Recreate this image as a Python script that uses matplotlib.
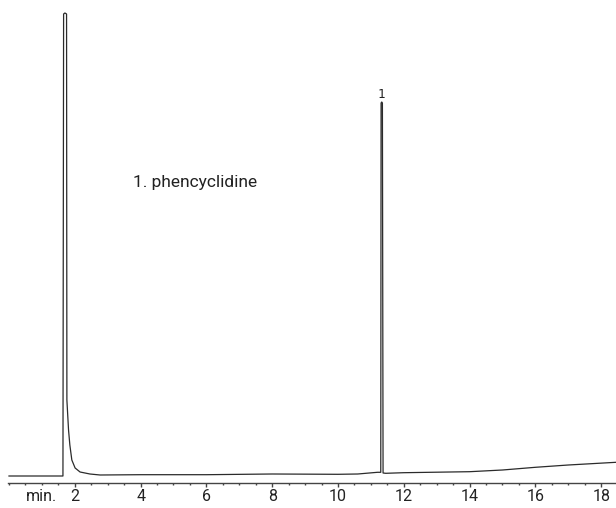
import matplotlib
matplotlib.use("Agg")
import matplotlib.pyplot as plt
from matplotlib.ticker import MultipleLocator

# Chromatogram trace (time in min, signal in arbitrary units)
time_min = [0.00, 1.64, 1.66, 1.70, 1.75, 1.76, 1.81, 1.85, 1.91, 2.01, 2.16, 2.46, 2.77,
            4.00, 6.00, 8.00, 10.00, 10.60, 11.20, 11.30, 11.31, 11.33, 11.35, 11.37,
            11.45, 12.00, 13.00, 14.00, 15.00, 16.00, 17.00, 18.45]
signal = [7.0, 7.0, 469.0, 470.0, 469.0, 83.0, 53.0, 38.0, 23.0, 15.0, 11.0, 9.0, 8.0,
          8.3, 8.3, 9.0, 8.7, 9.0, 10.7, 10.7, 380.0, 381.0, 380.0, 10.0,
          9.7, 10.3, 10.8, 11.3, 13.0, 15.7, 18.0, 20.7]

peak_times = [11.33]
peak_heights = [380.0]
peak_labels = ["1"]
compound_text = "1. phencyclidine"

major_ticks = [2, 4, 6, 8, 10, 12, 14, 16, 18]

plt.rcParams["font.family"] = ["Roboto", "DejaVu Sans"]

fig = plt.figure(figsize=(6.16, 5.08), dpi=100)
ax = fig.add_axes([8 / 616, 25 / 508, 608 / 616, 483 / 508])

ax.plot(time_min, signal, color="#2b2b2b", linewidth=0.9)

for t, h, lab in zip(peak_times, peak_heights, peak_labels):
    ax.text(t, h + 2, lab, ha="center", va="bottom", fontsize=9,
            family="DejaVu Sans Mono", color="#222222")

ax.text(3.77, 300, compound_text, ha="left", va="center", fontsize=12.5, color="#222222")

ax.set_xlim(-0.03, 18.45)
ax.set_ylim(0, 483)

for side in ["left", "right", "top"]:
    ax.spines[side].set_visible(False)
ax.spines["bottom"].set_color("#444444")
ax.spines["bottom"].set_linewidth(1.0)

ax.set_yticks([])
ax.set_xticks(major_ticks)
ax.set_xticklabels([str(v) for v in major_ticks])
ax.xaxis.set_minor_locator(MultipleLocator(0.5))
ax.tick_params(axis="x", which="major", length=3, width=1, color="#444444",
               labelsize=11.5, pad=1.5, labelcolor="#222222")
ax.tick_params(axis="x", which="minor", length=1.5, width=1, color="#444444")

# "min." sits on the same line as the tick labels
fig.text(41 / 616, 1 - 489.3 / 508, "min.", ha="center", va="top", fontsize=11.5, color="#222222")

fig.savefig("out.png", dpi=100)
